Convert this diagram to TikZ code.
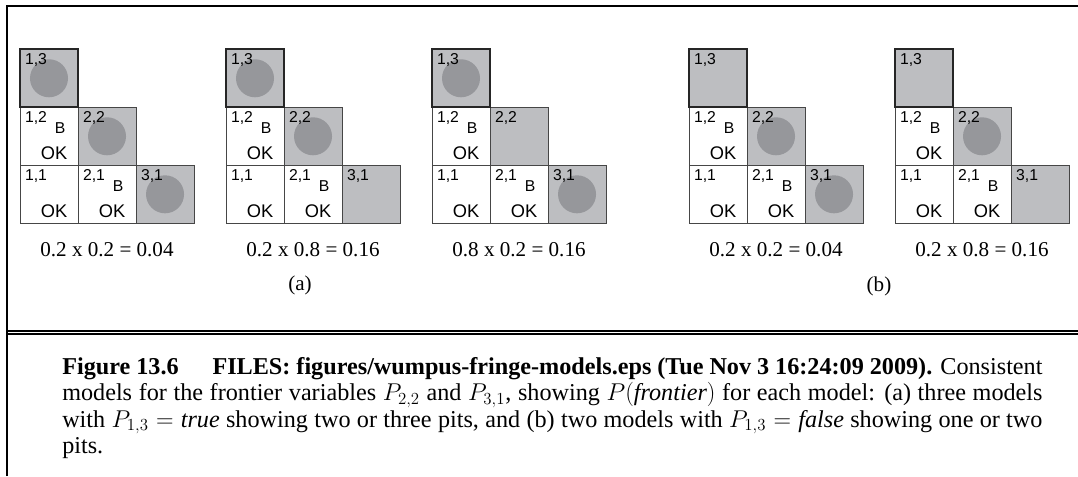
\documentclass[tikz,border=0pt]{standalone}
\usepackage{fontspec}
\setmainfont{Liberation Serif}
\setsansfont{Liberation Sans}
\usepackage{tikz}
\usetikzlibrary{positioning}
\definecolor{grisclaro}{RGB}{189,190,193}
\definecolor{grisoscuro}{RGB}{150,151,155}
\definecolor{borde}{RGB}{70,70,70}

\begin{document}
\begin{tikzpicture}[
    x=0.025cm, y=-0.025cm,
    cell/.style={
        rectangle,
        draw=borde,
        line width=0.6pt,
        minimum size=1.45cm,
        inner sep=0,
        outer sep=0,
        fill=white
    },
    pitcell/.style={cell, fill=grisclaro},
    topcell/.style={pitcell, draw=black!85, line width=1.3pt},
    pit/.style={circle, fill=grisoscuro, minimum size=0.95cm, inner sep=0},
    lbl/.style={font=\sffamily\fontsize{11.2}{13}\selectfont, inner sep=0},
    ok/.style={font=\sffamily\fontsize{13}{15}\selectfont, inner sep=0},
    prob/.style={font=\fontsize{15}{18}\selectfont, inner sep=0},
    frame/.style={line width=1.4pt}
]
\useasboundingbox (0,0) rectangle (1078,476);

% ---------------- Marco ----------------
\coordinate (fa) at (6.8,476);
\coordinate (fb) at (1078,5.8);
\coordinate (da) at (6.8,331);
\coordinate (db) at (1078,331);
\coordinate (dc) at (6.8,334.3);
\coordinate (dd) at (1078,334.3);
\draw[frame] (fa) |- (fb);
\draw[frame] (da) -- (db);
\draw[frame] (dc) -- (dd);

% ---------------- Modelos ----------------
\foreach \gx/\pa/\pb/\pc/\txt [count=\i] in {
    20/1/1/1/{0.2 x 0.2 = 0.04},
    226/1/1/0/{0.2 x 0.8 = 0.16},
    432/1/0/1/{0.8 x 0.2 = 0.16},
    689/0/1/1/{0.2 x 0.2 = 0.04},
    895/0/1/0/{0.2 x 0.8 = 0.16}}{
    \node[cell] (c11-\i) at (\gx+29,194.3) {};
    \node[cell, right=0cm of c11-\i] (c21-\i) {};
    \node[pitcell, right=0cm of c21-\i] (c31-\i) {};
    \node[cell, above=0cm of c11-\i] (c12-\i) {};
    \node[pitcell, right=0cm of c12-\i] (c22-\i) {};
    \node[topcell, above=0cm of c12-\i] (c13-\i) {};

    \ifnum\pa=1 \node[pit] (p13-\i) at (c13-\i) {}; \fi
    \ifnum\pb=1 \node[pit] (p22-\i) at (c22-\i) {}; \fi
    \ifnum\pc=1 \node[pit] (p31-\i) at (c31-\i) {}; \fi

    \node[lbl, below right=0.1cm and 0.12cm of c13-\i.north west] (l13-\i) {1,3};
    \node[lbl, below right=0.1cm and 0.12cm of c12-\i.north west] (l12-\i) {1,2\hspace{0.2cm}\raisebox{-0.28cm}{B}};
    \node[lbl, below right=0.1cm and 0.12cm of c22-\i.north west] (l22-\i) {2,2};
    \node[lbl, below right=0.1cm and 0.12cm of c11-\i.north west] (l11-\i) {1,1};
    \node[lbl, below right=0.1cm and 0.12cm of c21-\i.north west] (l21-\i) {2,1\hspace{0.2cm}\raisebox{-0.28cm}{B}};
    \node[lbl, below right=0.1cm and 0.12cm of c31-\i.north west] (l31-\i) {3,1};

    \node[ok] (k12-\i) at ([shift={(5,17)}]c12-\i.center) {OK};
    \node[ok] (k11-\i) at ([shift={(5,17)}]c11-\i.center) {OK};
    \node[ok] (k21-\i) at ([shift={(5,17)}]c21-\i.center) {OK};

    \node[prob] (t-\i) at (\gx+87,250) {\txt};
}

\node[prob] (ta) at (300,285) {(a)};
\node[prob] (tb) at (879,286) {(b)};

% ---------------- Pe ----------------
\node[anchor=north west, inner sep=0, text width=24.5cm, align=justify,
      font=\fontsize{17.2}{18.85}\selectfont] (cap) at (62,357)
{{\bfseries Figure 13.6\hspace{1.4em}FILES: figures/wumpus-fringe-models.eps (Tue Nov 3 16:24:09 2009).} Consistent\linebreak
models for the frontier variables $P_{2,2}$ and $P_{3,1}$, showing $P(\textit{frontier})$ for each model: (a) three models\linebreak
with $P_{1,3} = \textit{true}$ showing two or three pits, and (b) two models with $P_{1,3} = \textit{false}$ showing one or two\linebreak
pits.};

\end{tikzpicture}
\end{document}
